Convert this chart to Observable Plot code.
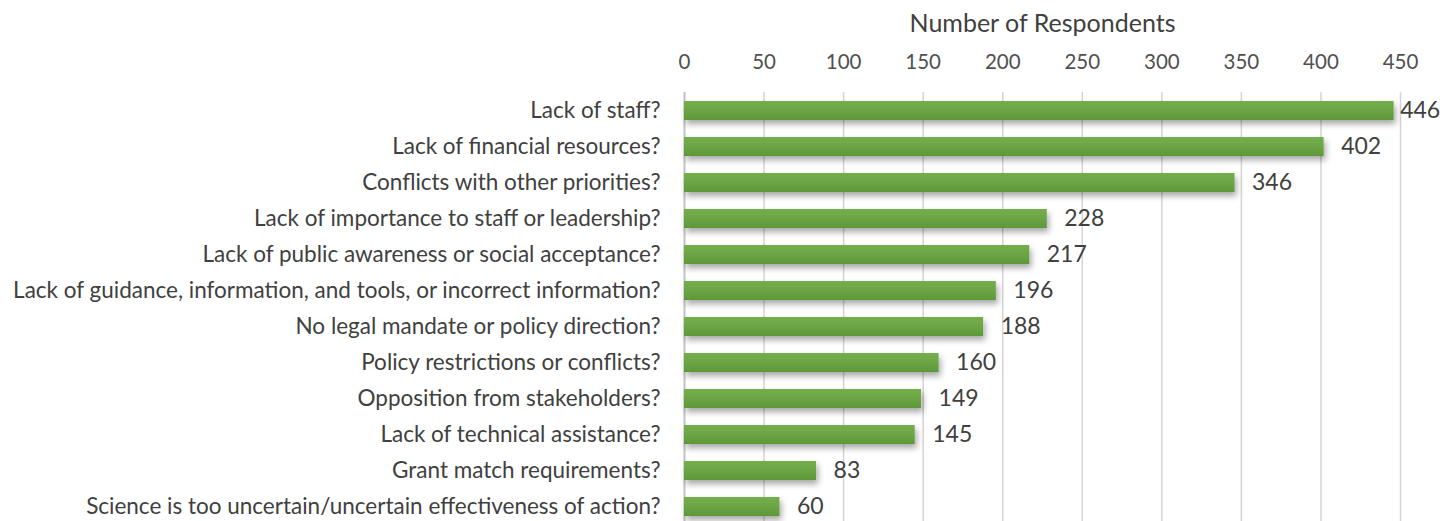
<!DOCTYPE html>
<html>
<head>
<meta charset="utf-8">
<script src="https://cdn.jsdelivr.net/npm/d3@7"></script>
<script src="https://cdn.jsdelivr.net/npm/@observablehq/plot@0.6"></script>
<style>
  html, body { margin: 0; padding: 0; background: #fff; }
  svg { display: block; }
</style>
</head>
<body>
<div id="chart"></div>
<script>
const categories = [
  "Lack of staff?",
  "Lack of financial resources?",
  "Conflicts with other priorities?",
  "Lack of importance to staff or leadership?",
  "Lack of public awareness or social acceptance?",
  "Lack of guidance, information, and tools, or incorrect information?",
  "No legal mandate or policy direction?",
  "Policy restrictions or conflicts?",
  "Opposition from stakeholders?",
  "Lack of technical assistance?",
  "Grant match requirements?",
  "Science is too uncertain/uncertain effectiveness of action?"
];
const respondents = [446, 402, 346, 228, 217, 196, 188, 160, 149, 145, 83, 60];
const xTicks = [0, 50, 100, 150, 200, 250, 300, 350, 400, 450];
const axisTitle = "Number of Respondents";

const data = categories.map((c, i) => ({label: c, value: respondents[i]}));
const maxVal = d3.max(respondents);

const FONT = "Lato, sans-serif";
const TXT = "#404040";

const chart = Plot.plot({
  width: 1440,
  height: 521,
  marginLeft: 684,
  marginRight: 40,
  marginTop: 92,
  marginBottom: 0,
  style: {fontFamily: FONT, color: TXT, background: "#fff"},
  x: {domain: [0, 450], range: [684, 1400]},
  y: {domain: categories, range: [93, 525], paddingInner: 0.47, paddingOuter: 0.235},
  marks: [
    Plot.ruleX(xTicks.slice(1), {stroke: "#d9d3d3", strokeWidth: 1.5}),
    Plot.ruleX([0], {stroke: "#c8c0c0", strokeWidth: 2}),
    Plot.barX(data, {x: "value", y: "label", fill: "url(#barGrad)"}),
    Plot.axisX({anchor: "top", ticks: xTicks, tickSize: 0, tickPadding: 24, label: null, fontSize: 20.5, fill: "#505050"}),
    Plot.axisY({anchor: "left", tickSize: 0, tickPadding: 24, label: null, fontSize: 22.5, fill: TXT}),
    Plot.text(data.filter(d => d.value < maxVal), {x: "value", y: "label", text: d => String(d.value), textAnchor: "start", dx: 17, fontSize: 23, fill: TXT}),
    Plot.text(data.filter(d => d.value === maxVal), {x: "value", y: "label", text: d => String(d.value), textAnchor: "start", dx: 6, fontSize: 23, fill: TXT}),
    Plot.text([axisTitle], {frameAnchor: "top", dy: -78, fontSize: 25, fill: TXT})
  ]
});

const svg = d3.select(chart);
const defs = svg.insert("defs", ":first-child");
const grad = defs.append("linearGradient").attr("id", "barGrad").attr("x1", 0).attr("y1", 0).attr("x2", 0).attr("y2", 1);
grad.append("stop").attr("offset", "0%").attr("stop-color", "#74ae4c");
grad.append("stop").attr("offset", "50%").attr("stop-color", "#6ba545");
grad.append("stop").attr("offset", "100%").attr("stop-color", "#5c9839");
const f = defs.append("filter").attr("id", "barShadow").attr("x", "-5%").attr("y", "-30%").attr("width", "115%").attr("height", "200%");
f.append("feDropShadow").attr("dx", 2).attr("dy", 4).attr("stdDeviation", 3).attr("flood-color", "#000").attr("flood-opacity", 0.35);
svg.selectAll("g[aria-label=bar]").attr("filter", "url(#barShadow)");

document.getElementById("chart").append(chart);
</script>
</body>
</html>
